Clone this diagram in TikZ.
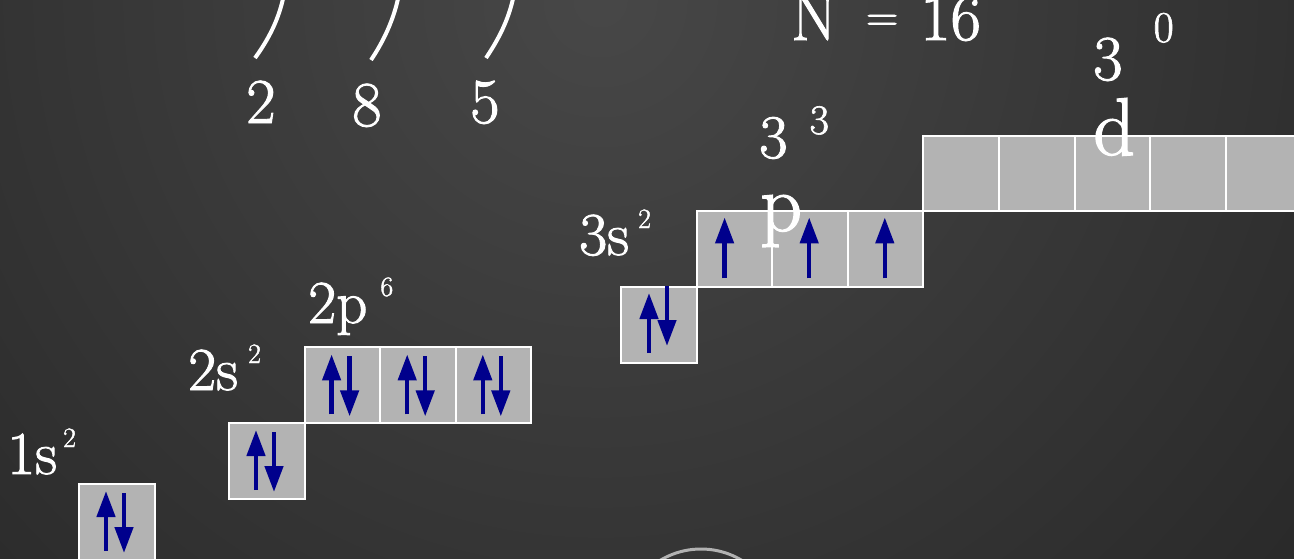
\documentclass[tikz,border=0pt]{standalone}
\usepackage{fontspec}
\newfontfamily\heavyfont{Latin Modern Roman}[FakeBold=1.5]
\usetikzlibrary{arrows.meta, positioning}
\definecolor{spinblue}{RGB}{0,0,140}
\definecolor{boxgray}{RGB}{179,179,179}
\newcommand{\orbexp}[2][10pt]{\hspace{#1}\raisebox{27pt}{\fontsize{28}{28}\selectfont #2}}

\begin{document}
\begin{tikzpicture}[
    x=1pt, y=-1pt,
    orb/.style={draw=white, fill=boxgray, line width=2pt, minimum width=75.6pt, minimum height=75.6pt, inner sep=0pt, outer sep=0pt},
    lbl/.style={text=white, inner sep=0pt, anchor=base west, font=\heavyfont\fontsize{61}{61}\selectfont},
    big/.style={lbl, font=\heavyfont\fontsize{64}{64}\selectfont},
    letter/.style={lbl, font=\heavyfont\fontsize{82}{82}\selectfont},
    spin/.style={-{Triangle[width=18pt, length=26pt]}, line width=4.5pt, spinblue},
    shell/.style={white, line width=4pt}
]
\useasboundingbox (0,0) rectangle (1294,558);
\clip (0,0) rectangle (1294,558);

% background
\shade[inner color=black!72, outer color=black!95] (600,0) circle (1760pt);
\draw[gray!60, line width=3pt] (701,628) circle (79pt);

% shells
\draw[shell] (284,-6) .. controls (279,20) and (268,40) .. (255,58);
\draw[shell] (399,-6) .. controls (394,20) and (383,42) .. (371,60);
\draw[shell] (514,-6) .. controls (509,20) and (498,40) .. (486,58);

\node[big] (n1) at (246,123) {2};
\node[big] (n2) at (352,126) {8};
\node[big] (n3) at (470,123) {5};
\node[lbl, font=\heavyfont\fontsize{66}{66}\selectfont] (nval) at (791,40) {N\hspace{29pt}\raisebox{9pt}{\fontsize{45}{45}\selectfont=}\hspace{22pt}16};

% orbital boxes
\node[orb, anchor=north west] (s1) at (79,484) {};
\node[orb, anchor=north west] (s2) at (229,423) {};
\node[orb, anchor=south west] (p2a) at (s2.north east) {};
\node[orb, right=0pt of p2a] (p2b) {};
\node[orb, right=0pt of p2b] (p2c) {};
\node[orb, anchor=north west] (s3) at (621,287) {};
\node[orb, anchor=south west] (p3a) at (s3.north east) {};
\node[orb, right=0pt of p3a] (p3b) {};
\node[orb, right=0pt of p3b] (p3c) {};
\node[orb, anchor=south west] (d3a) at (p3c.north east) {};
\node[orb, right=0pt of d3a] (d3b) {};
\node[orb, right=0pt of d3b] (d3c) {};
\node[orb, right=0pt of d3c] (d3d) {};
\node[orb, right=0pt of d3d] (d3e) {};

% electrons
\foreach \b in {s1,s2,p2a,p2b,p2c} {
  \draw[spin] ([shift={(27,67)}]\b.north west) -- ([shift={(27,7)}]\b.north west);
  \draw[spin] ([shift={(45,9)}]\b.north west) -- ([shift={(45,69)}]\b.north west);
}
\draw[spin] ([shift={(28,66)}]s3.north west) -- ([shift={(28,6)}]s3.north west);
\draw[spin] ([shift={(46,-1)}]s3.north west) -- ([shift={(46,59)}]s3.north west);
\foreach \b/\dx in {p3a/28,p3b/37,p3c/37}
  \draw[spin] ([shift={(\dx,67)}]\b.north west) -- ([shift={(\dx,6)}]\b.north west);

% labels
\node[lbl] (l1s) at (7,474) {1s\orbexp[6pt]{2}};
\node[lbl] (l2s) at (188,390) {2s\orbexp[10pt]{2}};
\node[lbl] (l2p) at (308,323) {2p\orbexp[13pt]{6}};
\node[lbl] (l3s) at (579,255) {3s\orbexp[9pt]{2}};
\node[lbl, font=\heavyfont\fontsize{62}{62}\selectfont] (l3p) at (759,158) {3\hspace{22pt}\raisebox{24pt}{\fontsize{42}{42}\selectfont 3}};
\node[letter] (l3pb) at (760,231) {p};
\node[lbl, font=\heavyfont\fontsize{64}{64}\selectfont] (l3d) at (1093,80) {3\hspace{31pt}\raisebox{38pt}{\fontsize{44}{44}\selectfont 0}};
\node[letter] (l3db) at (1093,155) {d};
\end{tikzpicture}
\end{document}
